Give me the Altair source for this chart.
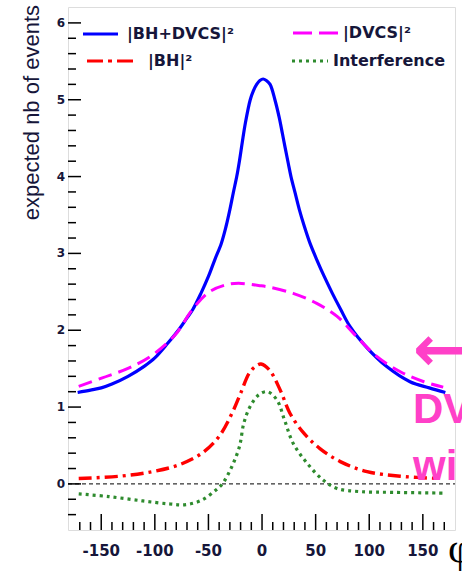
import altair as alt
import pandas as pd

# azimuthal angle phi (deg) and expected number of events for each contribution
phi_total = [-172, -160, -150, -140, -125, -110, -100, -88, -77, -70, -64.6, -57, -50, -44, -38, -33.6, -30, -26.8,
             -23.6, -21, -18.5, -15.5, -11, -8, -5, -2, 1, 4, 7.5, 12, 16, 19, 21.5, 24.5, 27, 30.8, 34.8, 39.5, 44.8,
             51, 58, 65.6, 73.4, 82, 98, 116, 138, 156, 171]
n_total = [1.19, 1.22, 1.25, 1.30, 1.40, 1.53, 1.64, 1.83, 2.02, 2.16, 2.27, 2.48, 2.70, 2.92, 3.13, 3.35, 3.57, 3.79,
           4.00, 4.21, 4.44, 4.70, 5.00, 5.12, 5.20, 5.25, 5.27, 5.25, 5.20, 5.00, 4.77, 4.56, 4.38, 4.17, 4.00, 3.79,
           3.57, 3.35, 3.13, 2.92, 2.70, 2.48, 2.27, 2.05, 1.77, 1.53, 1.33, 1.25, 1.19]

phi_dvcs = [-171, -149, -124, -102, -81, -65, -49, -34, -22, -2, 7, 29, 51, 70, 88, 107, 129, 151, 169]
n_dvcs = [1.27, 1.38, 1.51, 1.68, 1.94, 2.27, 2.50, 2.59, 2.61, 2.58, 2.56, 2.48, 2.35, 2.18, 1.92, 1.66, 1.46, 1.33, 1.26]

phi_bh = [-171, -133, -102, -77, -56, -40, -28, -20, -12, -6, -1, 7, 17, 26, 39, 54, 73, 98, 129, 166]
n_bh = [0.07, 0.10, 0.16, 0.25, 0.40, 0.62, 0.92, 1.18, 1.44, 1.53, 1.56, 1.48, 1.22, 0.92, 0.66, 0.46, 0.29, 0.16, 0.10, 0.07]

phi_int = [-171, -143, -112, -87, -71, -56, -43, -37, -28, -21, -17, -11, -3, 5, 14, 21, 29, 42, 57, 70, 91, 122, 171]
n_int = [-0.13, -0.165, -0.22, -0.26, -0.27, -0.21, -0.08, 0.0, 0.23, 0.49, 0.79, 1.01, 1.16, 1.20, 1.09, 0.83, 0.53,
         0.27, 0.05, -0.06, -0.10, -0.11, -0.12]

legend_labels = ["|BH+DVCS|²", "|DVCS|²", "|BH|²", "Interference"]
y_title = "expected nb of events"

x_major = [-150, -100, -50, 0, 50, 100, 150]
x_minor = [v for v in range(-170, 180, 10) if v % 50 != 0]
y_major = [0, 1, 2, 3, 4, 5, 6]
y_minor = [v / 10 for v in range(-4, 62, 2) if v % 10 != 0]

W, H = 387, 523
INK = "#16163a"
PINK = "#ff40c8"

x_scale = alt.Scale(domain=[-181, 180], nice=False, zero=False)
y_scale = alt.Scale(domain=[-0.6, 6.207], nice=False, zero=False)


def curve(phi, n, color, width, dash=None):
    df = pd.DataFrame({"phi": phi, "n": n})
    kw = dict(color=color, strokeWidth=width, interpolate="catmull-rom")
    if dash:
        kw["strokeDash"] = dash
    return alt.Chart(df).mark_line(**kw).encode(
        x=alt.X("phi:Q", scale=x_scale, axis=None),
        y=alt.Y("n:Q", scale=y_scale, axis=None),
    )


# dashed reference line at zero
zero = alt.Chart(pd.DataFrame({"n": [0]})).mark_rule(color="black", strokeWidth=1, strokeDash=[4, 3]).encode(
    y=alt.Y("n:Q", scale=y_scale, axis=None), x=alt.value(0), x2=alt.value(W))


# inward-pointing ticks along the bottom and left frame
def xticks(vals, length, width):
    return alt.Chart(pd.DataFrame({"v": vals})).mark_rule(color="black", strokeWidth=width).encode(
        x=alt.X("v:Q", scale=x_scale, axis=None), y=alt.value(H), y2=alt.value(H - length))


def yticks(vals, length, width):
    return alt.Chart(pd.DataFrame({"v": vals})).mark_rule(color="black", strokeWidth=width).encode(
        y=alt.Y("v:Q", scale=y_scale, axis=None), x=alt.value(0), x2=alt.value(length))


# tick labels and axis title
x_labels = alt.Chart(pd.DataFrame({"v": x_major, "t": [str(v) for v in x_major]})).mark_text(
    align="center", baseline="top", font="DejaVu Sans", fontWeight="bold", fontSize=15, color=INK
).encode(x=alt.X("v:Q", scale=x_scale, axis=None), y=alt.value(H + 14), text="t:N")

y_labels = alt.Chart(pd.DataFrame({"v": y_major, "t": [str(v) for v in y_major]})).mark_text(
    align="right", baseline="middle", font="DejaVu Sans", fontWeight="bold", fontSize=12, color=INK
).encode(y=alt.Y("v:Q", scale=y_scale, axis=None), x=alt.value(-3), text="t:N")

y_title_mark = alt.Chart(pd.DataFrame({"t": [y_title]})).mark_text(
    align="right", baseline="middle", angle=270, font="Liberation Sans", fontSize=22, color=INK
).encode(x=alt.value(-36), y=alt.value(-2), text="t:N")

tot = curve(phi_total, n_total, "#0000ff", 3.2)
dvcs = curve(phi_dvcs, n_dvcs, "#ff00ff", 3, [14, 7])
bh = curve(phi_bh, n_bh, "#ff0000", 3.4, [13, 5, 3, 5])
intf = curve(phi_int, n_int, "#2e8b2e", 3.2, [3, 4])

# legend entries: sample line span, row position, text start
legend_rows = [
    (legend_labels[0], "#0000ff", None, 15, 50, 27, 59),
    (legend_labels[1], "#ff00ff", [19, 7], 225, 270, 26, 275),
    (legend_labels[2], "#ff0000", [16, 5, 4, 5], 19, 69, 54, 80),
    (legend_labels[3], "#2e8b2e", [3, 4], 224, 260, 54, 265),
]
legend_layers = []
for label, color, dash, x0, x1, yy, tx in legend_rows:
    src = pd.DataFrame({"label": [label]})
    kw = dict(color=color, strokeWidth=3.2)
    if dash:
        kw["strokeDash"] = dash
    legend_layers.append(alt.Chart(src).mark_rule(**kw).encode(
        x=alt.value(x0), x2=alt.value(x1), y=alt.value(yy)))
    legend_layers.append(alt.Chart(src).mark_text(
        align="left", baseline="middle", font="DejaVu Sans", fontWeight="bold", fontSize=16, color=INK
    ).encode(x=alt.value(tx), y=alt.value(yy), text="label:N"))


def note(text, x, y, size, font, color, weight="bold"):
    return alt.Chart(pd.DataFrame({"t": [text]})).mark_text(
        align="left", baseline="alphabetic", font=font, fontWeight=weight, fontSize=size, color=color
    ).encode(x=alt.value(x), y=alt.value(y), text="t:N")


notes = [
    note("←", 345, 364, 64, "DejaVu Sans", PINK),
    note("DV", 345, 416, 42, "Liberation Sans", PINK),
    note("wi", 345, 473, 42, "Liberation Sans", PINK),
    note("φ", 380, 555, 42, "Liberation Serif", "black", "normal"),
]

chart = alt.layer(
    zero,
    xticks(x_minor, 8, 1.5), xticks(x_major, 16, 1.5),
    yticks(y_minor, 8, 1.5), yticks(y_major, 13, 1.5),
    tot, dvcs, bh, intf,
    x_labels, y_labels, y_title_mark,
    *legend_layers,
    *notes,
).properties(
    width=W, height=H,
    autosize=alt.AutoSizeParams(type="none"),
    padding={"left": 68, "top": 7, "right": 7, "bottom": 43},
).configure_view(
    stroke="black", strokeWidth=2
).configure(background="white")

chart.save("out.html", embed_options={"renderer": "svg", "actions": False})
